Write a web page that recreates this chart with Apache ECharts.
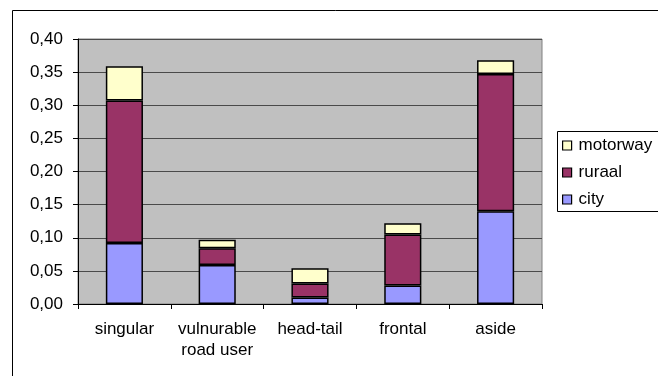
<!DOCTYPE html>
<html>
<head>
<meta charset="utf-8">
<script src="https://cdn.jsdelivr.net/npm/echarts@6/dist/echarts.min.js"></script>
<style>
  html, body { margin: 0; padding: 0; background: #fff; }
  #chart { width: 658px; height: 376px; }
</style>
</head>
<body>
<div id="chart"></div>
<script>
// Crash type categories and per-road-type shares
const categories = ['singular', 'vulnurable\nroad user', 'head-tail', 'frontal', 'aside'];
const city     = [0.092, 0.059, 0.010, 0.028, 0.140];
const ruraal   = [0.215, 0.025, 0.021, 0.077, 0.207];
const motorway = [0.052, 0.013, 0.023, 0.017, 0.021];
const legendOrder = ['motorway', 'ruraal', 'city'];

const FONT = '"Liberation Sans", Arial, sans-serif';
const FS = 17;

const chart = echarts.init(document.getElementById('chart'), null, { renderer: 'canvas' });

function barSeries(name, data, color) {
  return {
    name: name,
    type: 'bar',
    stack: 'total',
    barWidth: '40%',
    data: data,
    itemStyle: { color: color, borderColor: '#000', borderWidth: 1.5 },
    emphasis: { disabled: true }
  };
}

chart.setOption({
  animation: false,
  textStyle: { fontFamily: FONT },
  grid: {
    left: 78, right: 116, top: 39, bottom: 72,
    show: true,
    backgroundColor: '#c0c0c0',
    borderColor: '#808080',
    borderWidth: 1
  },
  xAxis: {
    type: 'category',
    data: categories,
    axisLine: { lineStyle: { color: '#000', width: 1 } },
    axisTick: { show: true, alignWithLabel: false, length: 5, lineStyle: { color: '#000' } },
    axisLabel: {
      interval: 0, hideOverlap: false,
      color: '#000', fontSize: FS, fontFamily: FONT, margin: 15, lineHeight: 21
    }
  },
  yAxis: {
    type: 'value',
    min: 0, max: 0.4, interval: 0.05,
    axisLine: { show: true, lineStyle: { color: '#000', width: 1 } },
    axisTick: { show: true, length: 5, lineStyle: { color: '#000' } },
    axisLabel: {
      color: '#000', fontSize: FS, fontFamily: FONT, margin: 15,
      formatter: v => v.toFixed(2).replace('.', ',')
    },
    splitLine: { show: true, lineStyle: { color: '#4a4a4a', width: 1 } }
  },
  legend: {
    data: legendOrder,
    orient: 'vertical',
    left: 562, top: 137,
    padding: 0,
    itemWidth: 9, itemHeight: 9,
    itemGap: 10,
    icon: 'rect',
    itemStyle: { borderColor: '#000', borderWidth: 1.2 },
    textStyle: { color: '#000', fontSize: FS, fontFamily: FONT, lineHeight: 17, padding: [0, 0, 0, 2] },
    selectedMode: false
  },
  graphic: [
    // outer chart frame
    { type: 'rect', shape: { x: 12.5, y: 10.5, width: 700, height: 400 },
      style: { fill: null, stroke: '#000', lineWidth: 1 }, silent: true, z: -1 },
    // legend frame
    { type: 'rect', shape: { x: 557.5, y: 131.5, width: 110, height: 80 },
      style: { fill: '#fff', stroke: '#000', lineWidth: 1 }, silent: true, z: -1 }
  ],
  series: [
    barSeries('city', city, '#9999ff'),
    barSeries('ruraal', ruraal, '#993366'),
    barSeries('motorway', motorway, '#ffffcc')
  ]
});
</script>
</body>
</html>
